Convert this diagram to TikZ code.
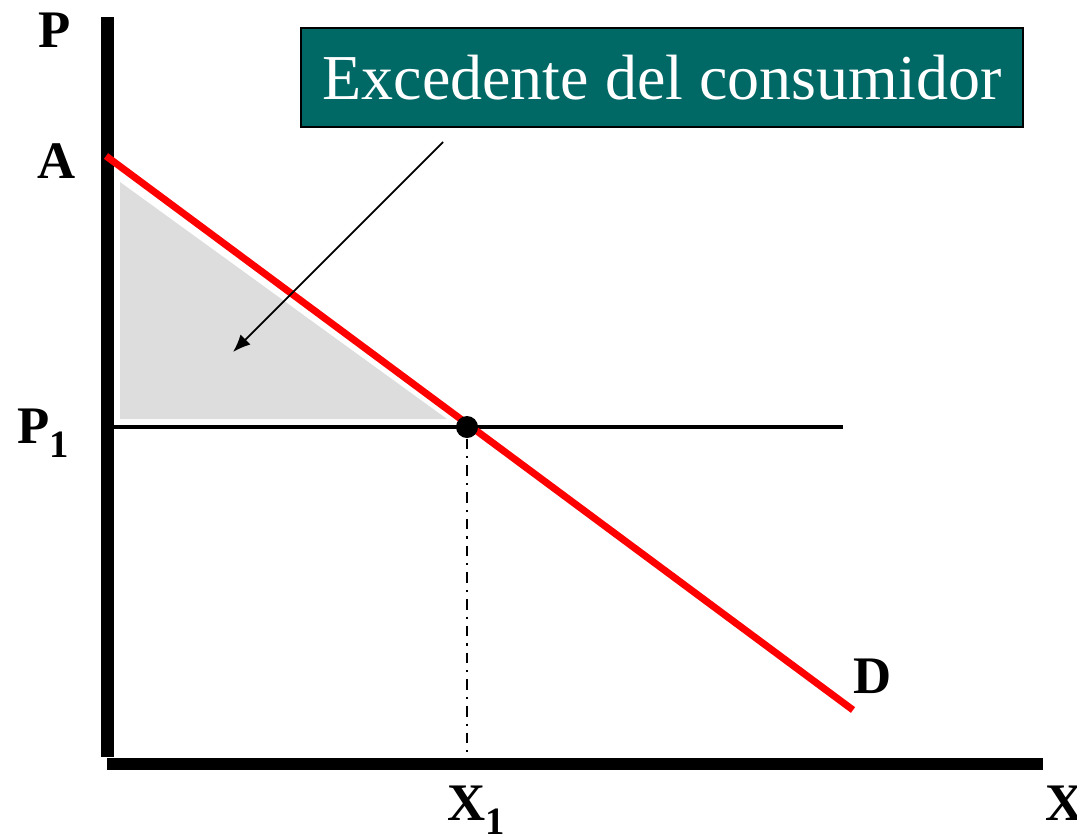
\documentclass[tikz,border=0pt]{standalone}
\usepackage{fontspec}
\setmainfont{Liberation Serif}
\usetikzlibrary{arrows.meta}
\definecolor{tealbox}{RGB}{0,105,102}
\newcommand{\lowsub}[1]{\raisebox{-4.2pt}{\fontsize{11}{11}\selectfont #1}}
\begin{document}
\begin{tikzpicture}[x=0.01cm,y=-0.01cm,
  lbl/.style={font=\fontsize{15}{15}\selectfont\bfseries, inner sep=0pt},
  axis/.style={line width=3.5pt}]
\useasboundingbox (0,0) rectangle (1077,833);
\fill[gray!27] (120,182) -- (120,419) -- (447,419) -- cycle;

\coordinate (ytop) at (107.5,17);
\coordinate (ybot) at (107.5,757);
\coordinate (xl) at (107,764);
\coordinate (xr) at (1043,764);
\coordinate (p1a) at (107.5,427);
\coordinate (p1b) at (843,427);
\coordinate (x1b) at (467,758);
\coordinate (dA) at (106,156);
\coordinate (dD) at (853,710);
\coordinate (arrA) at (443,142);
\coordinate (arrB) at (233,352);

\node[draw, line width=0.6pt, fill=tealbox, text=white, minimum width=7.22cm, minimum height=0.99cm,
  font=\fontsize{18.2}{18.2}\selectfont] (box) at (662,77.5) {Excedente del consumidor};

\path[draw,axis] (ytop) -- (ybot);
\path[draw,axis] (xl) -- (xr);
\path[draw,line width=1pt] (p1a) -- (p1b);
\path[draw,red,line width=2pt] (dA) -- (dD);
\node[circle, fill, inner sep=0pt, minimum size=0.22cm] (E) at (467,427) {};
\path[draw,line width=0.6pt,dash pattern=on 3pt off 2pt on 0.6pt off 2pt] (E) -- (x1b);
\path[draw,line width=0.5pt,-{Latex[length=5pt,width=4pt]}] (arrA) -- (arrB);

\node[lbl] (P) at (55,30) {P};
\node[lbl] (A) at (57,161) {A};
\node[lbl, anchor=base west] (P1) at (17,443) {P\lowsub{1}};
\node[lbl, anchor=base west] (X1) at (447,820) {X\lowsub{1}};
\node[lbl, anchor=base west] (X) at (1045,820) {X};
\node[lbl] (D) at (873,676) {D};
\end{tikzpicture}
\end{document}
